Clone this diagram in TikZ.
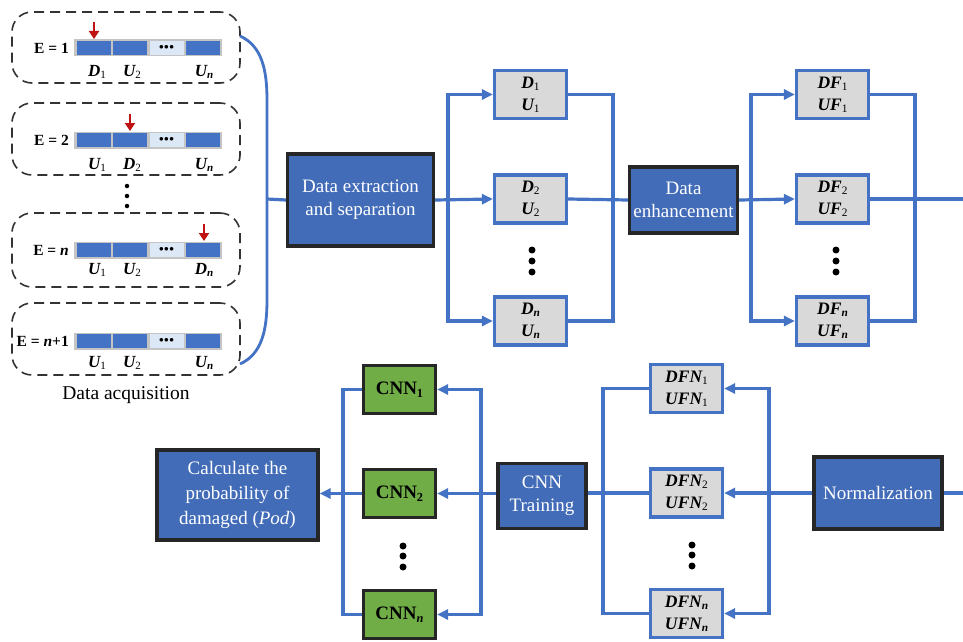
\documentclass[tikz,border=0pt]{standalone}
\usepackage{fontspec}
\setmainfont{Liberation Serif}
\usetikzlibrary{arrows.meta}
\definecolor{lnblue}{RGB}{68,114,196}
\definecolor{boxblue}{RGB}{66,108,184}
\definecolor{boxgray}{RGB}{217,217,217}
\definecolor{cnngreen}{RGB}{112,173,71}
\definecolor{barblue}{RGB}{68,114,196}
\definecolor{barlight}{RGB}{220,232,245}
\definecolor{bargray}{RGB}{196,196,196}
\definecolor{redarr}{RGB}{192,20,20}
\newcommand\lo[1]{\raisebox{-0.3ex}{\scalebox{0.65}{#1}}}
\tikzset{
  x=1pt,y=-1pt,
  conn/.style={draw=lnblue,line width=3.2pt},
  arr/.style={conn,-{Triangle[length=11pt,width=10pt]}},
  procbox/.style={draw=black!85,line width=3.2pt,fill=boxblue,text=white,align=center,inner sep=0pt,
     font=\fontsize{19}{23}\selectfont},
  databox/.style={draw=lnblue,line width=3.2pt,fill=boxgray,align=center,inner sep=0pt,
     minimum width=72pt,minimum height=48pt,font=\fontsize{17.5}{22}\selectfont\bfseries\itshape},
  cnnbox/.style={draw=black!85,line width=3.2pt,fill=cnngreen,align=center,inner sep=0pt,
     minimum width=72pt,minimum height=48pt,font=\fontsize{19}{22}\selectfont\bfseries},
  grp/.style={draw=black!80,line width=1.6pt,dash pattern=on 10pt off 6pt,rounded corners=20pt},
  elabel/.style={font=\fontsize{15.5}{18}\selectfont\bfseries,inner sep=0pt},
  slabel/.style={font=\fontsize{17}{18}\selectfont\bfseries\itshape,inner sep=0pt},
  seg/.style={inner sep=0pt,minimum width=34pt,minimum height=14pt},
  dotc/.style={circle,fill=black,inner sep=0pt,minimum size=7pt},
  sdot/.style={circle,fill=black,inner sep=0pt,minimum size=4.5pt},
  redtip/.style={draw=redarr,line width=2.8pt,-{Triangle[length=8pt,width=10pt]}}
}
\newcommand\acq[7]{%
  \node[grp,minimum width=228pt,minimum height=#3pt-#2pt] (#1) at (126,{(#2+#3)/2}) {};
  \node[fill=bargray,inner sep=0pt,minimum width=148pt,minimum height=17pt] (#1bar) at (148,#4) {};
  \node[seg,fill=barblue] (#1s1) at (94,#4) {};
  \node[seg,fill=barblue] (#1s2) at (130,#4) {};
  \node[seg,fill=barlight,font=\fontsize{9}{9}\selectfont] (#1s3) at (166.5,#4) {\raisebox{0.3ex}{$\bullet\!\bullet\!\bullet$}};
  \node[seg,fill=barblue] (#1s4) at (203,#4) {};
  \node[elabel,anchor=east] (#1e) at (69,#4) {#5};
  #6
  \coordinate (#1a) at (#7,#4-26);
  \draw[redtip] (#1a) -- ++(0,17);
}
\begin{document}
\begin{tikzpicture}
\useasboundingbox (0,0) rectangle (963,642);
\fill[white] (0,0) rectangle (963,642);

% ---------- Data acquisition groups ----------
\acq{g1}{12}{83}{48}{E = 1}{%
  \node[slabel] (g1l1) at (97,72) {D\lo{\upshape\mdseries 1}};
  \node[slabel] (g1l2) at (132,72) {U\lo{\upshape\mdseries 2}};
  \node[slabel] (g1l4) at (204,72) {U\lo{n}};}{94}
\acq{g2}{103}{175}{140}{E = 2}{%
  \node[slabel] (g2l1) at (97,165) {U\lo{\upshape\mdseries 1}};
  \node[slabel] (g2l2) at (132,165) {D\lo{\upshape\mdseries 2}};
  \node[slabel] (g2l4) at (204,165) {U\lo{n}};}{130}
\acq{g3}{213}{287}{250}{E = \textit{n}}{%
  \node[slabel] (g3l1) at (97,270) {U\lo{\upshape\mdseries 1}};
  \node[slabel] (g3l2) at (132,270) {U\lo{\upshape\mdseries 2}};
  \node[slabel] (g3l4) at (204,270) {D\lo{n}};}{204}
% group 4 (no red arrow)
\node[grp,minimum width=228pt,minimum height=72pt] (g4) at (126,339) {};
\node[fill=bargray,inner sep=0pt,minimum width=148pt,minimum height=17pt] (g4bar) at (148,341) {};
\node[seg,fill=barblue] (g4s1) at (94,341) {};
\node[seg,fill=barblue] (g4s2) at (130,341) {};
\node[seg,fill=barlight,font=\fontsize{9}{9}\selectfont] (g4s3) at (166.5,341) {\raisebox{0.3ex}{$\bullet\!\bullet\!\bullet$}};
\node[seg,fill=barblue] (g4s4) at (203,341) {};
\node[elabel,anchor=east] (g4e) at (69,341) {E = \textit{n}+1};
\node[slabel] (g4l1) at (97,363) {U\lo{\upshape\mdseries 1}};
\node[slabel] (g4l2) at (132,363) {U\lo{\upshape\mdseries 2}};
\node[slabel] (g4l4) at (204,363) {U\lo{n}};
\node[font=\fontsize{19.5}{22}\selectfont,inner sep=0pt] (acqlbl) at (126,395) {Data acquisition};
\node[sdot] (vd1) at (127,186) {};
\node[sdot] (vd2) at (127,196) {};
\node[sdot] (vd3) at (127,206) {};

% bracket
\coordinate (b1) at (240,36);
\coordinate (b4) at (240,364);
\coordinate (jn) at (267,199);
\draw[conn,line width=2.8pt] (b1) .. controls (262,46) and (267,70) .. (267,100) -- (267,300) .. controls (267,330) and (262,354) .. (b4);

% ---------- top row ----------
\node[procbox,minimum width=146pt,minimum height=92pt] (dex) at (360.5,200) {Data extraction\\and separation};
\node[databox] (d1) at (530.5,94.5) {D\lo{\upshape\mdseries 1}\\U\lo{\upshape\mdseries 1}};
\node[databox] (d2) at (530.5,199) {D\lo{\upshape\mdseries 2}\\U\lo{\upshape\mdseries 2}};
\node[databox] (dn) at (530.5,321) {D\lo{n}\\U\lo{n}};
\node[procbox,minimum width=108pt,minimum height=66pt] (den) at (683.5,200) {Data\\enhancement};
\node[databox] (f1) at (832.5,94.5) {DF\lo{\upshape\mdseries 1}\\UF\lo{\upshape\mdseries 1}};
\node[databox] (f2) at (832.5,199) {DF\lo{\upshape\mdseries 2}\\UF\lo{\upshape\mdseries 2}};
\node[databox] (fn) at (832.5,321) {DF\lo{n}\\UF\lo{n}};
\node[dotc] (dd1) at (532,250) {};
\node[dotc] (dd2) at (532,261) {};
\node[dotc] (dd3) at (532,272) {};
\node[dotc] (fd1) at (836,250) {};
\node[dotc] (fd2) at (836,261) {};
\node[dotc] (fd3) at (836,272) {};

\coordinate (s1) at (448,199);
\coordinate (m1) at (613,199);
\coordinate (s2) at (751,199);
\coordinate (m2) at (915,199);
\coordinate (out1) at (963,199);

\draw[conn] (jn) -- (dex.west);
\draw[arr] (dex.east) -- (d2.west);
\draw[arr] (s1) |- (d1.west);
\draw[arr] (s1) |- (dn.west);
\draw[conn] (d1.east) -| (m1);
\draw[conn] (dn.east) -| (m1);
\draw[conn] (d2.east) -- (den.west);
\draw[arr] (den.east) -- (f2.west);
\draw[arr] (s2) |- (f1.west);
\draw[arr] (s2) |- (fn.west);
\draw[conn] (f1.east) -| (m2);
\draw[conn] (fn.east) -| (m2);
\draw[conn] (f2.east) -- (out1);

% ---------- bottom row ----------
\node[procbox,minimum width=128pt,minimum height=72pt] (norm) at (878,493) {Normalization};
\node[databox] (n1) at (686.5,388.5) {DFN\lo{\upshape\mdseries 1}\\UFN\lo{\upshape\mdseries 1}};
\node[databox] (n2) at (686.5,493) {DFN\lo{\upshape\mdseries 2}\\UFN\lo{\upshape\mdseries 2}};
\node[databox] (nn) at (686.5,613.5) {DFN\lo{n}\\UFN\lo{n}};
\node[procbox,minimum width=88pt,minimum height=65pt] (cnnt) at (542,496) {CNN\\Training};
\node[cnnbox] (c1) at (399.5,389.5) {CNN\lo{1}};
\node[cnnbox] (c2) at (399.5,493.5) {CNN\lo{2}};
\node[cnnbox] (cn) at (399.5,614.5) {CNN\lo{\itshape n}};
\node[procbox,minimum width=161pt,minimum height=90pt,font=\fontsize{19}{25}\selectfont] (calc) at (237.5,495) {Calculate the\\probability of\\damaged (\textit{Pod})};
\node[dotc] (nd1) at (692,545) {};
\node[dotc] (nd2) at (692,555) {};
\node[dotc] (nd3) at (692,566) {};
\node[dotc] (cd1) at (403,546) {};
\node[dotc] (cd2) at (403,556) {};
\node[dotc] (cd3) at (403,567) {};

\coordinate (out2) at (963,493);
\coordinate (s3) at (769,493);
\coordinate (m3) at (603,493);
\coordinate (s4) at (481,493);
\coordinate (m4) at (343,493);

\draw[conn] (out2) -- (norm.east);
\draw[arr] (norm.west) -- (n2.east);
\draw[arr] (s3) |- (n1.east);
\draw[arr] (s3) |- (nn.east);
\draw[conn] (n1.west) -| (m3);
\draw[conn] (nn.west) -| (m3);
\draw[conn] (n2.west) -- (cnnt.east|-n2.west);
\draw[arr] (cnnt.west|-c2.east) -- (c2.east);
\draw[arr] (s4) |- (c1.east);
\draw[arr] (s4) |- (cn.east);
\draw[conn] (c1.west) -| (m4);
\draw[conn] (cn.west) -| (m4);
\draw[arr] (c2.west) -- (calc.east|-c2.west);
\end{tikzpicture}
\end{document}
